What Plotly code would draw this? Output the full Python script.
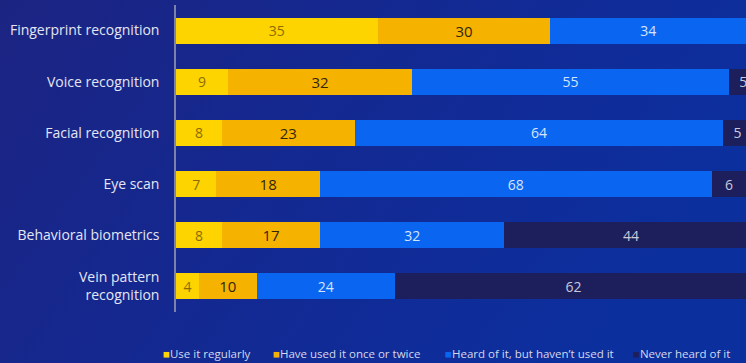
import plotly.graph_objects as go
import urllib.parse

# Survey data: awareness/usage of biometric methods (%)
categories = [
    "Fingerprint recognition",
    "Voice recognition",
    "Facial recognition",
    "Eye scan",
    "Behavioral biometrics",
    "Vein pattern<br>recognition",
]
use_regularly = [35, 9, 8, 7, 8, 4]
used_once_twice = [30, 32, 23, 18, 17, 10]
heard_not_used = [34, 55, 64, 68, 32, 24]
never_heard = [1, 5, 5, 6, 44, 62]

series_names = [
    "Use it regularly",
    "Have used it once or twice",
    "Heard of it, but haven\u2019t used it",
    "Never heard of it",
]
series_values = [use_regularly, used_once_twice, heard_not_used, never_heard]
bar_colors = ["#fdd400", "#f5b300", "#0a66f0", "#1c1f5c"]
text_colors = ["#8c6c00", "#33250a", "#d6e4ff", "#c9cadb"]
text_weights = [400, 500, 400, 400]
text_sizes = [14, 15, 14, 14]

FONT = "Open Sans"

fig = go.Figure()
for name, vals, col, tcol, tw, ts in zip(series_names, series_values, bar_colors,
                                         text_colors, text_weights, text_sizes):
    fig.add_trace(go.Bar(
        y=categories,
        x=vals,
        name=name,
        orientation="h",
        marker=dict(color=col, line=dict(width=0)),
        text=[str(v) for v in vals],
        textposition="inside",
        insidetextanchor="middle",
        constraintext="none",
        textfont=dict(family=FONT, size=ts, color=tcol, weight=tw),
        showlegend=False,
        hoverinfo="skip",
    ))

# Diagonal blue gradient behind the whole figure
svg = (
    "<svg xmlns='http://www.w3.org/2000/svg' width='746' height='363'>"
    "<defs><linearGradient id='g' x1='0' y1='0' x2='1' y2='0.35'>"
    "<stop offset='0' stop-color='#1c2482'/>"
    "<stop offset='0.45' stop-color='#142890'/>"
    "<stop offset='1' stop-color='#0c2f9e'/>"
    "</linearGradient></defs>"
    "<rect width='746' height='363' fill='url(#g)'/></svg>"
)
bg_src = "data:image/svg+xml;charset=utf-8," + urllib.parse.quote(svg)

W, H = 746, 363
ML, MR, MT, MB = 176, 0, 5, 51
pw, ph = W - ML - MR, H - MT - MB

# Legend drawn as a row of coloured squares with labels
legend_x = [161, 271, 443, 631]
annotations = []
for name, col, lx in zip(series_names, bar_colors, legend_x):
    annotations.append(dict(
        x=(lx - ML) / pw, y=-(353 - MT - ph) / ph,
        xref="paper", yref="paper",
        xanchor="left", yanchor="middle",
        text=f"<span style='color:{col}'>\u25a0</span>{name}",
        showarrow=False,
        font=dict(family=FONT, size=11.5, color="#d4d8ee"),
    ))

fig.update_layout(
    width=W, height=H,
    margin=dict(l=ML, r=MR, t=MT, b=MB, pad=0),
    barmode="stack",
    bargap=0.49,
    paper_bgcolor="#142890",
    plot_bgcolor="rgba(0,0,0,0)",
    images=[dict(
        source=bg_src, xref="paper", yref="paper",
        x=-ML / pw, y=1 + MT / ph, sizex=W / pw, sizey=H / ph,
        xanchor="left", yanchor="top", sizing="stretch", layer="below",
    )],
    xaxis=dict(range=[0, 98.96], visible=False, fixedrange=True),
    yaxis=dict(
        autorange="reversed",
        showline=True, linecolor="#7d82ad", linewidth=1.5,
        showgrid=False, zeroline=False,
        ticks="", ticklabelstandoff=12,
        tickfont=dict(family=FONT, size=14, color="#e4e6f4"),
    ),
    annotations=annotations,
)

fig.write_html("out.html", config={"displayModeBar": False})
